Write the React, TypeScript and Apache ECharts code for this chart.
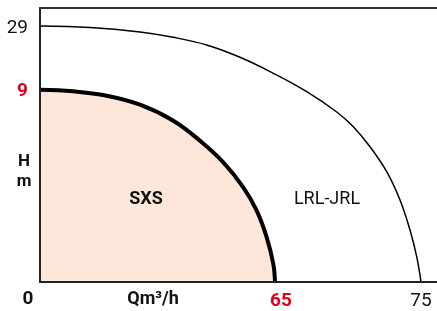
import React, { useEffect, useRef } from "react";
import * as echarts from "echarts";

// Schematic chart: positions in plot units (the original drawing is not to scale)
const sxsQ = [0, 33.3, 66.7, 100, 133.3, 160, 183.3, 203.3, 216.7, 226.7, 233.3, 235];
const sxsH = [192.3, 190.7, 186.3, 177.3, 161.3, 141.3, 119.7, 94.7, 71.3, 44.7, 18, 0];
const lrlQ = [0, 50, 100, 133.3, 166.7, 200, 233.3, 266.7, 296.7, 313.3, 330, 346.7, 360, 370, 376.7, 381];
const lrlH = [256, 254.5, 250, 244.7, 237, 224.7, 208.7, 190.3, 170, 155.3, 135.3, 110.3, 82, 52, 25.3, 0];

const seriesNames = ["SXS", "LRL-JRL"];
const flowTickLabels = ["65", "75"]; // at end of SXS, LRL-JRL curves
const headTickLabels = ["9", "29"]; // at start of SXS, LRL-JRL curves

const RED = "#e2001a";
const FONT = "Roboto";

export default function App() {
  const ref = useRef<HTMLDivElement>(null);
  useEffect(() => {
    if (!ref.current) return;
    const chart = echarts.init(ref.current, null, { renderer: "svg" });
    const sxsData = sxsQ.map((q, i) => [q, sxsH[i]]);
    const lrlData = lrlQ.map((q, i) => [q, lrlH[i]]);
    const xEnds = [sxsQ[sxsQ.length - 1], lrlQ[lrlQ.length - 1]];
    const yStarts = [sxsH[0], lrlH[0]];
    const txt = (x: number, y: number, text: string, bold: boolean, extra: any = {}) => ({
      type: "text",
      x,
      y,
      z: 100,
      style: {
        text,
        fontFamily: FONT,
        fontWeight: bold ? "bold" : "normal",
        fontSize: 18,
        fill: "#111",
        align: "center",
        verticalAlign: "middle",
        ...extra,
      },
    });
    chart.setOption({
      animation: false,
      grid: { left: 40, right: 0, top: 8, bottom: 29 },
      xAxis: [
        {
          type: "value",
          min: 0,
          max: 397,
          z: 10,
          axisLine: { show: true, lineStyle: { color: "#222", width: 2 } },
          axisTick: { show: false },
          splitLine: { show: false },
          axisLabel: {
            customValues: xEnds,
            margin: 8,
            fontFamily: FONT,
            fontSize: 19,
            formatter: (v: number) => (v === xEnds[0] ? `{r|${flowTickLabels[0]}}` : `{k|${flowTickLabels[1]}}`),
            rich: {
              r: { color: RED, fontWeight: "bold", fontFamily: FONT, fontSize: 19, padding: [0, 0, 0, 12] },
              k: { color: "#111", fontFamily: FONT, fontSize: 19 },
            },
          },
        },
        {
          type: "value",
          position: "top",
          min: 0,
          max: 397,
          z: 10,
          axisLine: { show: true, lineStyle: { color: "#333", width: 2 } },
          axisTick: { show: false },
          axisLabel: { show: false },
          splitLine: { show: false },
        },
      ],
      yAxis: {
        type: "value",
        min: 0,
        max: 274,
        z: 10,
        axisLine: { show: true, lineStyle: { color: "#222", width: 2 } },
        axisTick: { show: false },
        splitLine: { show: false },
        axisLabel: {
          customValues: yStarts,
          margin: 12,
          fontFamily: FONT,
          fontSize: 19,
          formatter: (v: number) => (v === yStarts[0] ? `{r|${headTickLabels[0]}}` : `{k|${headTickLabels[1]}}`),
          rich: {
            r: { color: RED, fontWeight: "bold", fontFamily: FONT, fontSize: 19 },
            k: { color: "#111", fontFamily: FONT, fontSize: 19 },
          },
        },
      },
      series: [
        {
          name: seriesNames[0],
          type: "line",
          data: sxsData,
          smooth: 0.4,
          symbol: "none",
          lineStyle: { color: "#000", width: 4 },
          areaStyle: { color: "#fde7db", opacity: 1 },
          z: 2,
        },
        {
          name: seriesNames[1],
          type: "line",
          data: lrlData,
          smooth: 0.4,
          symbol: "none",
          lineStyle: { color: "#000", width: 1.5 },
          z: 2,
        },
      ],
      graphic: [
        txt(28, 297, "0", true, { fontSize: 19 }),
        txt(153, 297, "Qm³/h", true),
        txt(24, 160, "H", true, { fontSize: 17 }),
        txt(24, 180, "m", true, { fontSize: 17 }),
        txt(146, 197, seriesNames[0], true),
        txt(327, 197, seriesNames[1], false),
      ],
    });
    return () => chart.dispose();
  }, []);
  return <div ref={ref} style={{ position: "fixed", left: 0, top: 0, width: 437, height: 311 }} />;
}
